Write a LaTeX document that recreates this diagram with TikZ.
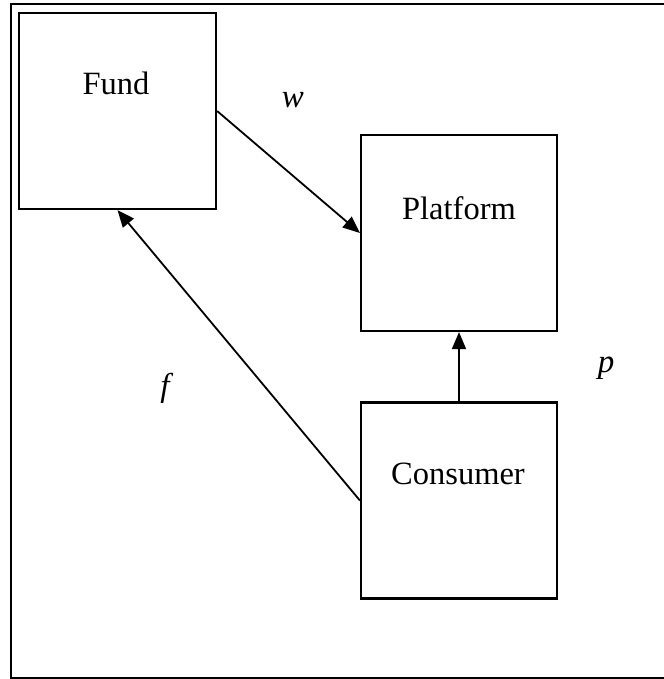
\documentclass[tikz,border=0pt]{standalone}
\usepackage{fontspec}
\setmainfont{Liberation Serif}
\usetikzlibrary{arrows.meta}

\begin{document}
\begin{tikzpicture}[x=1pt, y=-1pt, >={Triangle[length=17pt,width=14pt]},
  box/.style={draw, line width=2.2pt, minimum width=#1, minimum height=196pt, inner sep=0pt},
  boxtext/.style={font=\fontsize{32.5}{38}\selectfont},
  flowlabel/.style={font=\fontsize{33}{38}\selectfont\itshape},
  flow/.style={->, line width=1.8pt}]
  \useasboundingbox (0,0) rectangle (663,679);
  % outer frame
  \draw[line width=1.5pt] (11,4) rectangle (680,678);
  % boxes
  \node[box=197pt] (fund)     at (117.5,111) {};
  \node[box=196pt] (platform) at (459,233) {};
  \node[box=196pt] (consumer) at (459,500.5) {};
  \node[boxtext] (fundtext)     at (116,83)  {Fund};
  \node[boxtext] (platformtext) at (459,208) {Platform};
  \node[boxtext] (consumertext) at (458,474) {Consumer};
  % flows
  \draw[flow] (fund.east) -- (platform.west);
  \draw[flow] (consumer.north) -- (platform.south);
  \draw[flow] (consumer.west) -- (fund.south);
  \node[flowlabel] (wlabel) at (293,100) {w};
  \node[flowlabel] (plabel) at (606,368) {p};
  \node[flowlabel] (flabel) at (165,388) {f};
\end{tikzpicture}
\end{document}
